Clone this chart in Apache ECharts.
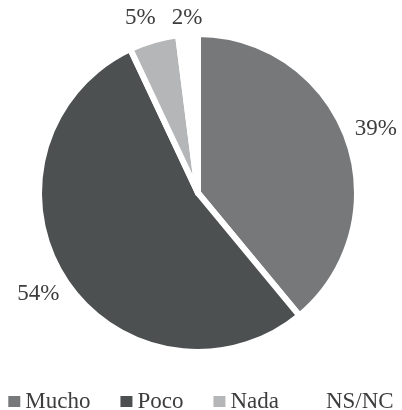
<!DOCTYPE html>
<html>
<head>
<meta charset="utf-8">
<script src="https://cdn.jsdelivr.net/npm/echarts@6/dist/echarts.min.js"></script>
<style>
  html, body { margin: 0; padding: 0; background: #ffffff; }
  #chart { width: 402px; height: 410px; }
</style>
</head>
<body>
<div id="chart"></div>
<script>
// Categories and shares (percent)
const categories = ['Mucho', 'Poco', 'Nada', 'NS/NC'];
const shares = [39, 54, 5, 2];
const sliceColors = ['#76787a', '#4d5051', '#b4b6b7', '#ffffff'];

const FONT = 'Liberation Serif';
const FONT_SIZE = 23;
const TEXT_COLOR = '#3d3d3d';

const CX = 198, CY = 193, R = 159;
const LABEL_R = 189;   // radius of label centres
const LABEL_TOP = 18;  // highest allowed label centre
const LABEL_GAP = 16;  // minimum horizontal gap between neighbouring labels

// Approximate width of a "NN%" label from the serif font's advance widths
const labelWidth = s => FONT_SIZE * (0.5 * (s.length - 1) + 0.833);

// Label centres along each slice's mid-angle (clockwise from 12 o'clock)
const total = shares.reduce((a, b) => a + b, 0);
let acc = 0;
const labelPos = shares.map(v => {
  const mid = (acc + v / 2) / total * 2 * Math.PI;
  acc += v;
  const ux = Math.sin(mid), uy = -Math.cos(mid);
  let t = LABEL_R;
  if (CY + uy * t < LABEL_TOP) t = (CY - LABEL_TOP) / -uy;
  return { x: CX + ux * t, y: CY + uy * t, w: labelWidth(v + '%') };
});
// Keep the labels near the top from running into each other
for (let i = labelPos.length - 2; i >= 0; i--) {
  const a = labelPos[i], b = labelPos[i + 1];
  if (Math.abs(a.y - b.y) < FONT_SIZE && a.x < b.x) {
    const limit = b.x - b.w / 2 - LABEL_GAP - a.w / 2;
    if (a.x > limit) a.x = limit;
  }
}

const chart = echarts.init(document.getElementById('chart'));
chart.setOption({
  animation: false,
  legend: {
    data: categories,
    left: 'center',
    top: 385,
    itemWidth: 12,
    itemHeight: 11,
    itemGap: 30,
    icon: 'rect',
    itemStyle: { borderWidth: 0 },
    textStyle: { fontFamily: FONT, fontSize: FONT_SIZE, color: TEXT_COLOR }
  },
  series: [{
    type: 'pie',
    center: [CX, CY],
    radius: [0, R],
    startAngle: 90,
    avoidLabelOverlap: false,
    itemStyle: { borderColor: '#ffffff', borderWidth: 6 },
    label: {
      fontFamily: FONT,
      fontSize: FONT_SIZE,
      color: TEXT_COLOR,
      formatter: '{c}%'
    },
    labelLine: { show: false },
    labelLayout: function (p) {
      const pos = labelPos[p.dataIndex];
      return { x: pos.x, y: pos.y, align: 'center', verticalAlign: 'middle' };
    },
    emphasis: { disabled: true },
    data: categories.map((name, i) => ({
      name: name,
      value: shares[i],
      itemStyle: { color: sliceColors[i] }
    }))
  }]
});
</script>
</body>
</html>
